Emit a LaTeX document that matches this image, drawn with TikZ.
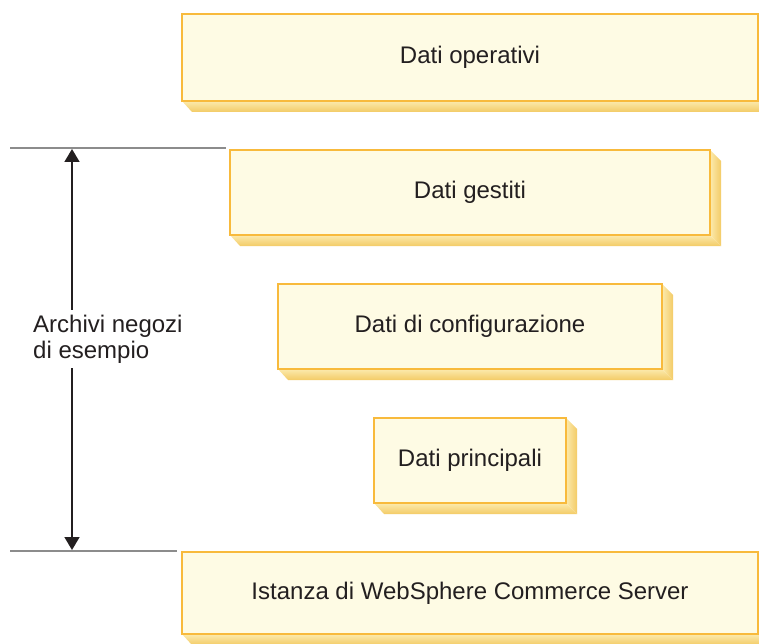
\documentclass[tikz,border=0pt]{standalone}
\usepackage{fontspec}
\setmainfont{Liberation Sans}
\usetikzlibrary{arrows.meta}
\definecolor{boxfill}{HTML}{FEFBE4}
\definecolor{boxline}{HTML}{F8BA3C}
\definecolor{shtop}{HTML}{FCEDB4}
\definecolor{shbot}{HTML}{F3CB66}
\definecolor{rulegray}{HTML}{8C8C8C}
\definecolor{txt}{HTML}{231F20}
\tikzset{
  databox/.style={draw=boxline, line width=2pt, fill=boxfill, inner sep=0pt, anchor=north west, text=txt, font=\fontsize{24}{28}\selectfont},
  rulebar/.style={draw=rulegray, line width=2pt},
  dimarrow/.style={draw=txt, line width=1.6pt, {Triangle[length=13pt,width=15pt]}-{Triangle[length=13pt,width=15pt]}},
  lbl/.style={text=txt, fill=white, font=\fontsize{24}{26}\selectfont, align=left, anchor=west, inner xsep=0pt, inner ysep=5pt}
}
\newcommand{\shadowbox}[4]{%
  \shade[top color=shtop, bottom color=shbot] (#1,#4) -- (#1+11,#4+12) -- (#3+12,#4+12) -- (#3,#4) -- cycle;
  \shade[left color=shtop, right color=shbot] (#3,#2) -- (#3+12,#2+12) -- (#3+12,#4+12) -- (#3,#4) -- cycle;
}
\begin{document}
\begin{tikzpicture}[x=1pt,y=-1pt]
\useasboundingbox (0,0) rectangle (759,644);
% shadows
\shadowbox{181}{13}{757}{100}
\shadowbox{229}{149}{709}{234}
\shadowbox{277}{283}{661}{368}
\shadowbox{373}{417}{565}{502}
\shadowbox{181}{551}{757}{633}
% boxes
\node[databox, minimum width=576pt, minimum height=87pt] (op) at (181,13) {Dati operativi};
\node[databox, minimum width=480pt, minimum height=85pt] (ge) at (229,149) {Dati gestiti};
\node[databox, minimum width=384pt, minimum height=85pt] (co) at (277,283) {Dati di configurazione};
\node[databox, minimum width=192pt, minimum height=85pt] (pr) at (373,417) {Dati principali};
\node[databox, minimum width=576pt, minimum height=82pt] (is) at (181,551) {Istanza di WebSphere Commerce Server};
% rules
\coordinate (t1) at (10,148);
\coordinate (t2) at (226,148);
\coordinate (b1) at (10,551);
\coordinate (b2) at (177,551);
\draw[rulebar] (t1) -- (t2);
\draw[rulebar] (b1) -- (b2);
\coordinate (at) at (72,149);
\coordinate (ab) at (72,550);
\draw[dimarrow] (at) -- (ab);
\node[lbl] (arch) at (33,339) {Archivi negozi\\di esempio};
\end{tikzpicture}
\end{document}
